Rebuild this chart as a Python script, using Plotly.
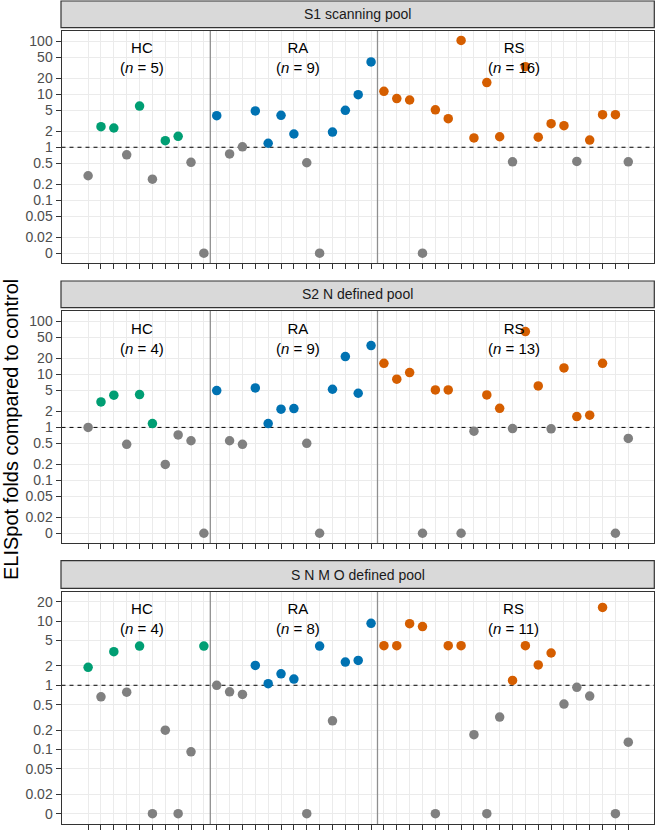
import plotly.graph_objects as go

# ---------------- data ----------------
group_of_subject = ["HC"] * 10 + ["RA"] * 13 + ["RS"] * 20
group_names = ["HC", "RA", "RS"]
group_label_x = [4.17, 16.3, 33.1]
group_bounds = [9.5, 22.5]
group_colors = {"HC": "#009E73", "RA": "#0072B2", "RS": "#D55E00"}
nonresp_color = "#808080"

pool_titles = ["S1 scanning pool", "S2 N defined pool", "S N M O defined pool"]

s1_values = [0.29, 2.45, 2.31, 0.72, 6.0, 0.25, 1.33, 1.61, 0.52, 0,
             3.95, 0.75, 1.02, 4.84, 1.19, 4.0, 1.78, 0.51, 0, 1.94, 4.99, 9.84, 40.7,
             11.4, 8.3, 7.8, 0, 5.1, 3.47, 104, 1.5, 16.6, 1.58, 0.53, 33.2, 1.55, 2.79, 2.56,
             0.54, 1.37, 4.12, 4.12, 0.53]
s1_resp = [0, 1, 1, 0, 1, 0, 1, 1, 0, 0,
           1, 0, 0, 1, 1, 1, 1, 0, 0, 1, 1, 1, 1,
           1, 1, 1, 0, 1, 1, 1, 1, 1, 1, 0, 1, 1, 1, 1, 0, 1, 1, 1, 0]

s2_values = [1.0, 3.03, 4.06, 0.48, 4.17, 1.18, 0.20, 0.72, 0.56, 0,
             4.96, 0.56, 0.48, 5.58, 1.18, 2.21, 2.27, 0.50, 0, 5.26, 21.8, 4.42, 35.2,
             16.3, 8.15, 10.9, 0, 5.1, 5.1, 0, 0.85, 4.11, 2.3, 0.95, 64.7, 6.08, 0.94, 13.3,
             1.6, 1.7, 16.3, 0, 0.62]
s2_resp = [0, 1, 1, 0, 1, 1, 0, 0, 0, 0,
           1, 0, 0, 1, 1, 1, 1, 0, 0, 1, 1, 1, 1,
           1, 1, 1, 0, 1, 1, 0, 0, 1, 1, 0, 1, 1, 0, 1, 1, 1, 1, 0, 0]

s3_values = [1.9, 0.66, 3.33, 0.78, 4.08, 0, 0.20, 0, 0.092, 4.08,
             1.0, 0.79, 0.72, 2.04, 1.06, 1.51, 1.25, 0, 4.08, 0.28, 2.3, 2.44, 9.2,
             4.13, 4.13, 9.1, 8.2, 0, 4.13, 4.13, 0.17, 0, 0.32, 1.19, 4.13, 2.07, 3.18,
             0.51, 0.93, 0.68, 16.3, 0, 0.13]
s3_resp = [1, 0, 1, 0, 1, 0, 0, 0, 0, 1,
           0, 0, 0, 1, 1, 1, 1, 0, 1, 0, 1, 1, 1,
           1, 1, 1, 1, 0, 1, 1, 0, 0, 0, 1, 1, 1, 1, 0, 0, 0, 1, 0, 0]

tick_vals_big = [0, 0.02, 0.05, 0.1, 0.2, 0.5, 1, 2, 5, 10, 20, 50, 100]
tick_vals_small = [0, 0.02, 0.05, 0.1, 0.2, 0.5, 1, 2, 5, 10, 20]
tick_text_big = ["0", "0.02", "0.05", "0.1", "0.2", "0.5", "1", "2", "5", "10", "20", "50", "100"]
tick_text_small = ["0", "0.02", "0.05", "0.1", "0.2", "0.5", "1", "2", "5", "10", "20"]

ZERO_POS = 0.01  # zero values are drawn at this position on the log axis
REF_LEVEL = 1

panels = [
    dict(values=s1_values, resp=s1_resp, ticks=tick_vals_big, text=tick_text_big, yrange=[-2.19, 2.2]),
    dict(values=s2_values, resp=s2_resp, ticks=tick_vals_big, text=tick_text_big, yrange=[-2.19, 2.2]),
    dict(values=s3_values, resp=s3_resp, ticks=tick_vals_small, text=tick_text_small, yrange=[-2.165, 1.457]),
]
XRANGE = [-2.07, 44.0]

# ---------------- layout geometry ----------------
W, H = 656, 832
x_left, x_right = 61.5, 654.0
panel_px = [(30.7, 263.3), (311.0, 543.3), (591.7, 824.3)]
strip_px = [(1.0, 27.7), (281.0, 307.7), (560.7, 588.3)]

def py(p):
    return 1 - p / H

FONT = "Liberation Sans, Arial, sans-serif"
fig = go.Figure()
layout = dict(
    width=W, height=H, margin=dict(l=0, r=0, t=0, b=0),
    paper_bgcolor="white", plot_bgcolor="white", showlegend=False,
    font=dict(family=FONT),
)
shapes = []
annotations = []
subjects = list(range(len(group_of_subject)))

for k, p in enumerate(panels):
    sfx = "" if k == 0 else str(k + 1)
    xa, ya = "x" + sfx, "y" + sfx
    ylo, yhi = 10 ** p["yrange"][0], 10 ** p["yrange"][1]
    # group dividers (drawn as line traces so they sit above the grid, below points)
    for bx in group_bounds:
        fig.add_trace(go.Scatter(x=[bx, bx], y=[ylo, yhi], mode="lines", xaxis=xa, yaxis=ya,
                                 line=dict(color="#8F8F8F", width=1.3), hoverinfo="skip"))
    # reference line at 1
    fig.add_trace(go.Scatter(x=XRANGE, y=[REF_LEVEL, REF_LEVEL], mode="lines", xaxis=xa, yaxis=ya,
                             line=dict(color="black", width=1, dash="4px,4px"), hoverinfo="skip"))
    yv = [v if v > 0 else ZERO_POS for v in p["values"]]
    colors = [group_colors[g] if r else nonresp_color for g, r in zip(group_of_subject, p["resp"])]
    fig.add_trace(go.Scatter(
        x=subjects, y=yv, mode="markers", xaxis=xa, yaxis=ya,
        marker=dict(size=9.5, color=colors, line=dict(width=0)),
        hoverinfo="skip",
    ))
    top, bot = panel_px[k]
    axis_common = dict(showline=True, mirror=True, linecolor="#333333", linewidth=1,
                       gridcolor="#EBEBEB", gridwidth=1, zeroline=False,
                       ticks="outside", tickcolor="#333333", tickwidth=1)
    layout["xaxis" + sfx] = dict(
        axis_common, domain=[x_left / W, x_right / W], anchor=ya,
        range=XRANGE, tickvals=subjects, ticktext=[""] * len(subjects),
        showticklabels=False, ticklen=5,
    )
    layout["yaxis" + sfx] = dict(
        axis_common, domain=[py(bot), py(top)], anchor=xa, type="log",
        range=p["yrange"], tickvals=[t if t > 0 else ZERO_POS for t in p["ticks"]],
        ticktext=p["text"], ticklen=5,
        tickfont=dict(size=14, color="#4D4D4D", family=FONT),
    )
    # strip
    s_top, s_bot = strip_px[k]
    shapes.append(dict(type="rect", xref="paper", yref="paper",
                       x0=61.0 / W, x1=654.3 / W, y0=py(s_bot), y1=py(s_top),
                       fillcolor="#D9D9D9", line=dict(color="#333333", width=1.2), layer="above"))
    annotations.append(dict(xref="paper", yref="paper", x=(61.0 + 654.3) / 2 / W,
                            y=py((s_top + s_bot) / 2), text=pool_titles[k], showarrow=False,
                            xanchor="center", yanchor="middle",
                            font=dict(size=14, color="#1A1A1A", family=FONT)))
    # group labels
    for g, gx in zip(group_names, group_label_x):
        n = sum(r for gg, r in zip(group_of_subject, p["resp"]) if gg == g)
        annotations.append(dict(xref=xa, yref=ya + " domain", x=gx, y=0.883,
                                text=f"{g}<br>(<i>n</i> = {n})", showarrow=False,
                                xanchor="center", yanchor="middle",
                                font=dict(size=15, color="black", family=FONT)))

annotations.append(dict(xref="paper", yref="paper", x=11 / W, y=py(430),
                        text="ELISpot folds compared to control", textangle=-90,
                        showarrow=False, xanchor="center", yanchor="middle",
                        font=dict(size=20, color="black", family=FONT)))

layout["shapes"] = shapes
layout["annotations"] = annotations
fig.update_layout(**layout)
fig.write_html("out.html", config={"displayModeBar": False},
               post_script="document.body.style.margin='0';document.body.style.overflow='hidden';")
